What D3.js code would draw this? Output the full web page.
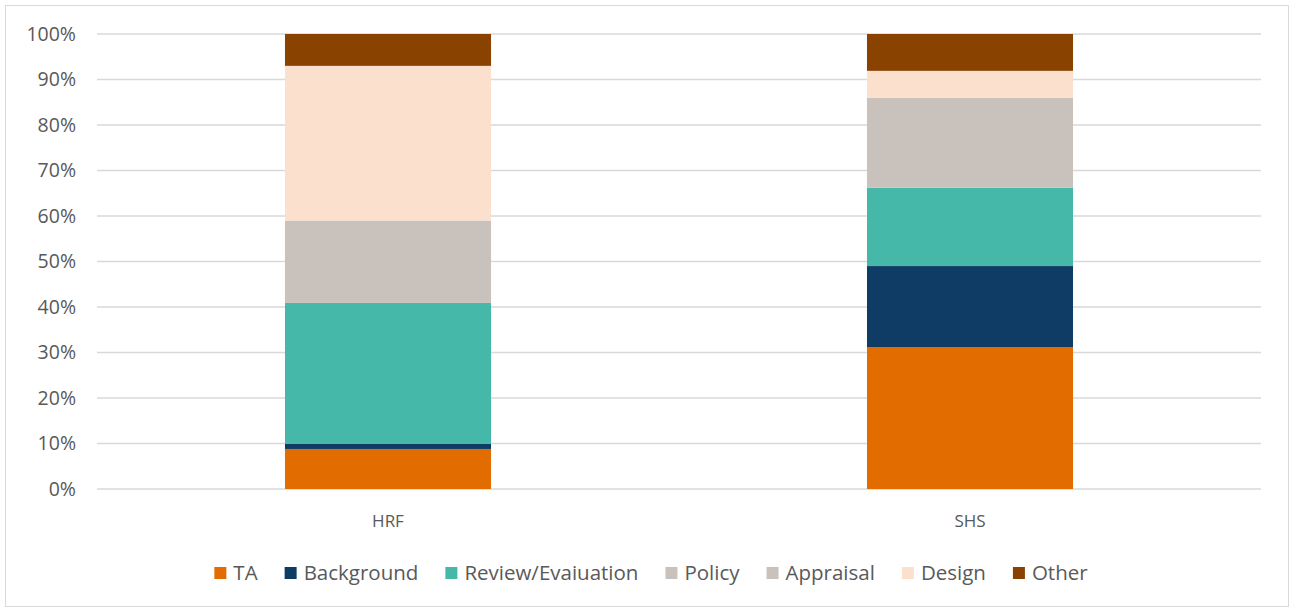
<!DOCTYPE html>
<html>
<head>
<meta charset="utf-8">
<script src="https://cdn.jsdelivr.net/npm/d3@7"></script>
<style>
  body { margin: 0; background: #fff; }
  svg text { font-family: "Open Sans", Lato, sans-serif; fill: #595959; }
</style>
</head>
<body>
<svg id="chart" width="1290" height="609"></svg>
<script>
const width = 1290, height = 609;

// data (percent of total)
const categories = ['HRF', 'SHS'];
const seriesNames = ['TA', 'Background', 'Review/Evaiuation', 'Policy', 'Appraisal', 'Design', 'Other'];
const seriesColors = ['#E36C00', '#0E3C64', '#45B8A9', '#C9C1BB', '#C9C1BB', '#FBE0CD', '#8A4200'];
const taValues = [8.8, 31.2];
const backgroundValues = [1.1, 17.8];
const reviewValues = [31.0, 17.2];
const policyValues = [0, 0];
const appraisalValues = [18.1, 19.8];
const designValues = [34.0, 5.9];
const otherValues = [7.0, 8.1];
const yTicks = [0, 10, 20, 30, 40, 50, 60, 70, 80, 90, 100];

const table = categories.map((c, i) => ({
    cat: c,
    'TA': taValues[i],
    'Background': backgroundValues[i],
    'Review/Evaiuation': reviewValues[i],
    'Policy': policyValues[i],
    'Appraisal': appraisalValues[i],
    'Design': designValues[i],
    'Other': otherValues[i]
}));

const margin = {left: 97, right: 29, top: 34, bottom: 120};
const svg = d3.select('#chart');

// outer frame
svg.append('rect')
    .attr('x', 5.5).attr('y', 5.5)
    .attr('width', 1283).attr('height', 601)
    .attr('fill', 'none').attr('stroke', '#D9D9D9').attr('stroke-width', 1);

const x = d3.scaleBand().domain(categories).range([margin.left, width - margin.right]);
const y = d3.scaleLinear().domain([0, 100]).range([height - margin.bottom, margin.top]);
const barW = x.bandwidth() * 0.354;

// gridlines
svg.append('g')
    .selectAll('line')
    .data(yTicks)
    .join('line')
    .attr('x1', margin.left).attr('x2', width - margin.right)
    .attr('y1', d => y(d)).attr('y2', d => y(d))
    .attr('stroke', '#D9D9D9').attr('stroke-width', 1.5);

// y tick labels
svg.append('g')
    .selectAll('text')
    .data(yTicks)
    .join('text')
    .attr('x', 76).attr('y', d => y(d))
    .attr('dy', '0.35em')
    .attr('text-anchor', 'end')
    .style('font-size', '19.5px')
    .text(d => d + '%');

// stacked bars
const stack = d3.stack().keys(seriesNames)(table);
const color = d3.scaleOrdinal().domain(seriesNames).range(seriesColors);

svg.append('g')
    .selectAll('g')
    .data(stack)
    .join('g')
    .attr('fill', d => color(d.key))
    .selectAll('rect')
    .data(d => d)
    .join('rect')
    .attr('x', d => x(d.data.cat) + (x.bandwidth() - barW) / 2)
    .attr('width', barW)
    .attr('y', d => y(d[1]))
    .attr('height', d => Math.max(0, y(d[0]) - y(d[1])));

// category labels
svg.append('g')
    .selectAll('text')
    .data(categories)
    .join('text')
    .attr('x', d => x(d) + x.bandwidth() / 2)
    .attr('y', 527)
    .attr('text-anchor', 'middle')
    .style('font-size', '17px')
    .text(d => d);

// legend
const legend = svg.append('g');
const items = legend.selectAll('g')
    .data(seriesNames)
    .join('g');
items.append('rect')
    .attr('width', 12).attr('height', 12)
    .attr('y', -6)
    .attr('fill', d => color(d));
items.append('text')
    .attr('x', 19)
    .attr('dy', '0.35em')
    .style('font-size', '20.5px')
    .text(d => d);

let offset = 0;
items.each(function () {
    const g = d3.select(this);
    g.attr('transform', `translate(${offset},0)`);
    const tw = g.select('text').node().getComputedTextLength();
    offset += 19 + tw + 27;
});
offset -= 27;
legend.attr('transform', `translate(${(width - offset) / 2 + 6},573)`);
</script>
</body>
</html>
